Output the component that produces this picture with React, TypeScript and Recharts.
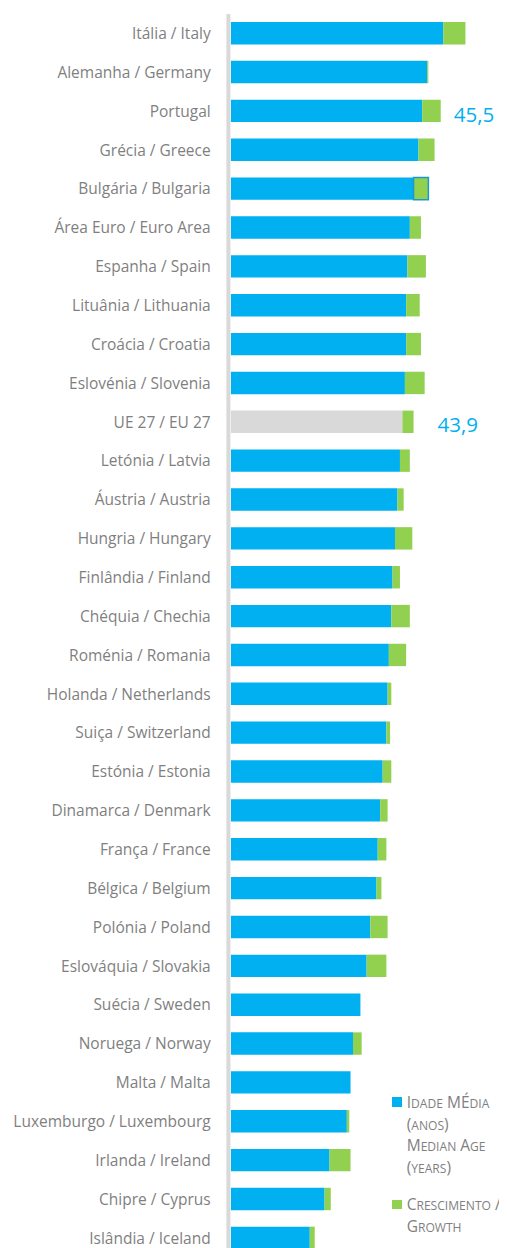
import React from "react";
import { BarChart, Bar, XAxis, YAxis, Cell, LabelList, Legend } from "recharts";

const categories = [
  "Itália / Italy", "Alemanha / Germany", "Portugal", "Grécia / Greece", "Bulgária / Bulgaria",
  "Área Euro / Euro Area", "Espanha / Spain", "Lituânia / Lithuania", "Croácia / Croatia",
  "Eslovénia / Slovenia", "UE 27 / EU 27", "Letónia / Latvia", "Áustria / Austria",
  "Hungria / Hungary", "Finlândia / Finland", "Chéquia / Chechia", "Roménia / Romania",
  "Holanda / Netherlands", "Suiça / Switzerland", "Estónia / Estonia", "Dinamarca / Denmark",
  "França / France", "Bélgica / Belgium", "Polónia / Poland", "Eslováquia / Slovakia",
  "Suécia / Sweden", "Noruega / Norway", "Malta / Malta", "Luxemburgo / Luxembourg",
  "Irlanda / Ireland", "Chipre / Cyprus", "Islândia / Iceland",
];

const medianAge = [
  47.2, 45.9, 45.5, 45.2, 44.8, 44.5, 44.3, 44.2, 44.2, 44.1,
  43.9, 43.7, 43.5, 43.3, 43.1, 43.0, 42.8, 42.7, 42.6, 42.3,
  42.1, 41.9, 41.8, 41.3, 41.0, 40.5, 39.9, 39.7, 39.4, 38.0,
  37.6, 36.4,
];

const growth = [
  1.8, 0.1, 1.5, 1.3, 1.2, 0.9, 1.5, 1.1, 1.2, 1.6,
  0.9, 0.8, 0.5, 1.4, 0.6, 1.5, 1.4, 0.3, 0.3, 0.7,
  0.6, 0.7, 0.4, 1.4, 1.6, 0, 0.7, 0, 0.2, 1.7,
  0.5, 0.4,
];

const notes: Record<string, string> = {
  "Portugal": "45,5",
  "UE 27 / EU 27": "43,9",
};

const xDomain = [30, 52];

const legendAge = ["Idade MÉdia", "(anos)", "Median Age", "(years)"];
const legendGrowth = ["Crescimento /", "Growth"];

const BLUE = "#00b0f0";
const GREEN = "#92d050";
const GREY = "#d9d9d9";
const TEXT = "#7f7f7f";
const FONT = "'Open Sans', sans-serif";

const data = categories.map((name, i) => ({
  name,
  age: medianAge[i],
  growth: growth[i],
  note: notes[name] || "",
}));

const noteOffsets: Record<string, number> = { "45,5": 13, "43,9": 24 };

const renderNote = (props: any) => {
  const { x, y, width, height, value } = props;
  if (!value) return null;
  const off = noteOffsets[value] ?? 14;
  return (
    <text
      x={Number(x) + Number(width) + off}
      y={Number(y) + Number(height) / 2 + 3.5}
      dy="0.35em"
      fill={BLUE}
      fontSize={20.5}
      fontFamily={FONT}
      textAnchor="start"
    >
      {value}
    </text>
  );
};

// small-caps rendering: lowercase runs shown as smaller capitals
const SmallCaps = ({ text, size }: { text: string; size: number }) => {
  const parts: { s: string; small: boolean }[] = [];
  for (const ch of text) {
    const small = ch !== ch.toUpperCase();
    const last = parts[parts.length - 1];
    if (last && last.small === small) last.s += ch;
    else parts.push({ s: ch, small });
  }
  return (
    <>
      {parts.map((p, i) => (
        <span key={i} style={{ fontSize: p.small ? size * 0.78 : size }}>
          {p.s.toUpperCase()}
        </span>
      ))}
    </>
  );
};

const LegendContent = () => {
  const lineH = 21.7;
  const size = 15.5;
  const item = (color: string, lines: string[], top: number) => (
    <div style={{ position: "absolute", left: 0, top, width: 125 }}>
      <div
        style={{
          position: "absolute",
          left: 0,
          top: 5.5,
          width: 9.4,
          height: 9.4,
          background: color,
        }}
      />
      {lines.map((l, i) => (
        <div
          key={i}
          style={{
            position: "absolute",
            left: 14.4,
            top: i * lineH,
            height: lineH,
            lineHeight: lineH + "px",
            whiteSpace: "nowrap",
            fontSize: size,
            color: TEXT,
            fontFamily: FONT,
          }}
        >
          <SmallCaps text={l} size={size} />
        </div>
      ))}
    </div>
  );
  return (
    <div style={{ position: "relative", width: 125, height: 150 }}>
      {item(BLUE, legendAge, 0)}
      {item(GREEN, legendGrowth, 102.3)}
    </div>
  );
};

export default function App() {
  return (
    <div style={{ width: 499, height: 1250 }}>
      <BarChart
        width={499}
        height={1250}
        data={data}
        layout="vertical"
        margin={{ top: 6, right: 4.5, bottom: 0.5, left: 0 }}
        barSize={22.4}
      >
        <XAxis type="number" domain={xDomain} allowDataOverflow hide />
        <YAxis
          type="category"
          dataKey="name"
          width={222.7}
          interval={0}
          tickLine={false}
          tickSize={0}
          tickMargin={20}
          axisLine={{ stroke: GREY, strokeWidth: 4, transform: "translate(-2.3,0)" }}
          tick={{ fill: TEXT, fontSize: 15.5, fontFamily: FONT }}
        />
        <Bar dataKey="age" stackId="a" fill={BLUE} isAnimationActive={false}>
          {data.map((d, i) => (
            <Cell key={i} fill={d.name === "UE 27 / EU 27" ? GREY : BLUE} />
          ))}
        </Bar>
        <Bar dataKey="growth" stackId="a" fill={GREEN} isAnimationActive={false}>
          {data.map((d, i) => (
            <Cell
              key={i}
              fill={GREEN}
              stroke={d.name === "Bulgária / Bulgaria" ? "#1c98d0" : undefined}
              strokeWidth={d.name === "Bulgária / Bulgaria" ? 1.5 : 0}
            />
          ))}
          <LabelList dataKey="note" content={renderNote} />
        </Bar>
        <Legend
          layout="vertical"
          align="center"
          verticalAlign="middle"
          content={<LegendContent />}
          wrapperStyle={{ position: "absolute", left: 384.3, top: 1083.9, width: 125, height: 150 }}
        />
      </BarChart>
    </div>
  );
}
